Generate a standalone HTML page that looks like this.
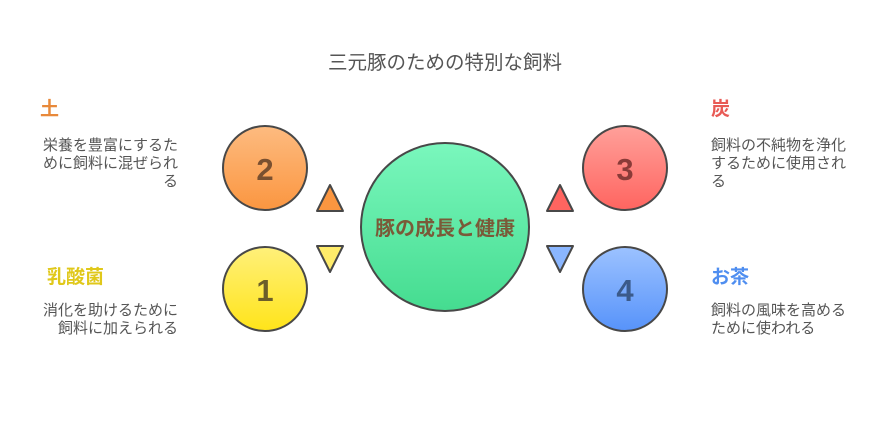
<!DOCTYPE html>
<html><head><meta charset="utf-8"><style>
body{margin:0;background:#fff;}
svg text{font-family:"Liberation Sans","Noto Sans CJK JP",sans-serif;}
</style></head><body>
<svg width="890" height="422" viewBox="0 0 890 422" xmlns="http://www.w3.org/2000/svg">
<defs>
<linearGradient id="g2" x1="0" y1="0" x2="0" y2="1"><stop offset="0" stop-color="#fdbb80"/><stop offset="1" stop-color="#fb9640"/></linearGradient>
<linearGradient id="g1" x1="0" y1="0" x2="0" y2="1"><stop offset="0" stop-color="#fff07a"/><stop offset="1" stop-color="#ffe41a"/></linearGradient>
<linearGradient id="g3" x1="0" y1="0" x2="0" y2="1"><stop offset="0" stop-color="#ffa09a"/><stop offset="1" stop-color="#ff6560"/></linearGradient>
<linearGradient id="g4" x1="0" y1="0" x2="0" y2="1"><stop offset="0" stop-color="#9cc2ff"/><stop offset="1" stop-color="#5793fa"/></linearGradient>
<linearGradient id="gc" x1="0" y1="0" x2="0" y2="1"><stop offset="0" stop-color="#7af7bd"/><stop offset="1" stop-color="#45dc90"/></linearGradient>
</defs>
<text x="445" y="69" text-anchor="middle" font-size="19.5" fill="#555">三元豚のための特別な飼料</text>

<circle cx="265" cy="168" r="42" fill="url(#g2)" stroke="#484848" stroke-width="2"/>
<text x="265" y="180" text-anchor="middle" font-size="31" font-weight="bold" fill="#7a5030">2</text>
<circle cx="265" cy="289" r="42" fill="url(#g1)" stroke="#484848" stroke-width="2"/>
<text x="265" y="301" text-anchor="middle" font-size="31" font-weight="bold" fill="#6b5e2a">1</text>
<circle cx="625" cy="168" r="42" fill="url(#g3)" stroke="#484848" stroke-width="2"/>
<text x="625" y="180" text-anchor="middle" font-size="31" font-weight="bold" fill="#8a3b38">3</text>
<circle cx="625" cy="289" r="42" fill="url(#g4)" stroke="#484848" stroke-width="2"/>
<text x="625" y="301" text-anchor="middle" font-size="31" font-weight="bold" fill="#3b5a8a">4</text>

<circle cx="445" cy="227" r="84" fill="url(#gc)" stroke="#484848" stroke-width="2"/>
<text x="445" y="235" text-anchor="middle" font-size="20" font-weight="bold" fill="#7a5a38">豚の成長と健康</text>

<polygon points="330,185 343,211 317,211" fill="#fb9640" stroke="#484848" stroke-width="2" stroke-linejoin="round"/>
<polygon points="317,246 343,246 330,272" fill="#ffec6a" stroke="#484848" stroke-width="2" stroke-linejoin="round"/>
<polygon points="560,185 573,211 547,211" fill="#ff6560" stroke="#484848" stroke-width="2" stroke-linejoin="round"/>
<polygon points="547,246 573,246 560,272" fill="#8ab6ff" stroke="#484848" stroke-width="2" stroke-linejoin="round"/>

<text x="40" y="115" font-size="19" font-weight="bold" fill="#e8893a">土</text>
<g font-size="15" fill="#555" text-anchor="end">
<text x="178" y="150">栄養を豊富にするた</text>
<text x="178" y="168">めに飼料に混ぜられ</text>
<text x="178" y="186">る</text>
<text x="178" y="315">消化を助けるために</text>
<text x="178" y="333">飼料に加えられる</text>
</g>
<text x="47" y="283" font-size="19" font-weight="bold" fill="#e0c81a">乳酸菌</text>

<text x="711" y="115" font-size="19" font-weight="bold" fill="#e85a55">炭</text>
<text x="711" y="283" font-size="19" font-weight="bold" fill="#4f8ef0">お茶</text>
<g font-size="15" fill="#555">
<text x="711" y="150">飼料の不純物を浄化</text>
<text x="711" y="168">するために使用され</text>
<text x="711" y="186">る</text>
<text x="711" y="315">飼料の風味を高める</text>
<text x="711" y="333">ために使われる</text>
</g>
</svg>
</body></html>
